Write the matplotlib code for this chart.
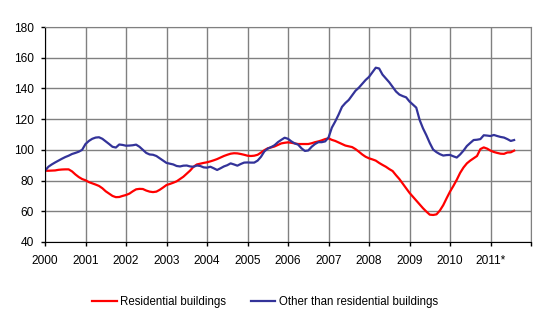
import numpy as np
import matplotlib
matplotlib.use("Agg")
import matplotlib.pyplot as plt

plt.rcParams["font.family"] = ["Liberation Sans", "DejaVu Sans"]

RED, BLUE, GRID = "#FF0000", "#333399", "#808080"

# monthly index values, Jan 2000 .. Aug 2011
residential = [
    86.4, 86.4, 86.5, 86.6, 87.0, 87.2, 87.3, 87.3, 86.0, 84.0, 82.3, 81.0,   # 2000
    80.2, 79.0, 78.2, 77.4, 76.5, 75.0, 73.0, 71.5, 70.0, 69.2, 69.3, 70.0,   # 2001
    70.6, 71.5, 73.0, 74.3, 74.6, 74.5, 73.5, 72.8, 72.5, 72.8, 74.0, 75.5,   # 2002
    77.1, 77.8, 78.6, 79.5, 81.0, 82.5, 84.5, 86.5, 89.0, 90.5, 91.0, 91.5,   # 2003
    91.9, 92.5, 93.2, 94.0, 95.0, 96.0, 96.8, 97.5, 97.8, 97.7, 97.3, 96.8,   # 2004
    96.2, 96.0, 96.2, 96.8, 98.2, 99.8, 101.0, 101.6, 102.2, 103.2, 104.2, 104.6,  # 2005
    104.9, 104.6, 104.2, 103.8, 103.8, 103.8, 103.8, 104.3, 105.0, 105.5, 106.2, 107.0,  # 2006
    107.5, 106.5, 105.8, 104.8, 103.8, 102.8, 102.3, 101.8, 100.5, 98.8, 97.0, 95.5,  # 2007
    94.5, 93.8, 93.0, 91.5, 90.2, 89.0, 87.5, 86.2, 83.5, 81.0, 78.0, 75.0,   # 2008
    72.0, 69.5, 67.0, 64.5, 62.0, 59.8, 57.8, 57.6, 58.0, 60.5, 64.0, 68.5,   # 2009
    72.8, 76.5, 80.5, 85.0, 88.5, 91.2, 93.0, 94.5, 96.0, 100.5, 101.6, 100.8,  # 2010
    99.5, 98.6, 98.0, 97.5, 97.4, 98.3, 98.4, 99.5,                           # 2011
]
other = [
    86.4, 89.0, 90.5, 91.8, 93.0, 94.2, 95.3, 96.2, 97.3, 98.0, 98.8, 100.0,  # 2000
    103.8, 105.8, 107.2, 108.0, 108.2, 107.2, 105.5, 103.8, 102.0, 101.5, 103.5, 103.2,  # 2001
    102.7, 102.8, 103.0, 103.4, 102.0, 100.0, 98.0, 97.0, 96.8, 96.0, 94.5, 93.0,  # 2002
    91.5, 91.0, 90.5, 89.5, 89.2, 89.7, 89.8, 89.2, 89.0, 89.8, 89.5, 88.6,   # 2003
    88.4, 89.0, 88.0, 86.9, 88.0, 89.2, 90.0, 91.2, 90.5, 89.7, 90.8, 91.7,   # 2004
    91.8, 91.7, 91.7, 93.0, 95.5, 99.0, 100.8, 101.8, 103.0, 105.0, 106.5, 107.9,  # 2005
    107.2, 105.5, 104.2, 103.4, 101.0, 99.3, 99.6, 102.0, 103.8, 105.0, 105.0, 105.5,  # 2006
    108.0, 114.5, 118.5, 123.0, 128.0, 130.5, 132.5, 135.5, 138.5, 140.5, 143.0, 145.5,  # 2007
    147.5, 150.5, 153.5, 153.0, 149.0, 146.5, 144.0, 141.0, 138.0, 136.0, 135.0, 134.2,  # 2008
    131.5, 129.5, 127.5, 119.5, 114.0, 109.5, 104.5, 100.2, 98.5, 97.2, 96.3, 96.6,  # 2009
    96.7, 95.8, 95.0, 97.0, 99.5, 102.5, 104.5, 106.4, 106.6, 107.0, 109.5, 109.3,  # 2010
    109.0, 109.7, 109.0, 108.4, 108.0, 107.0, 105.8, 106.4,                   # 2011
]
years = list(range(2000, 2012))
year_labels = [str(y) for y in years[:-1]] + ["2011*"]

t = 2000 + np.arange(len(residential)) / 12.0

fig = plt.figure(figsize=(5.55, 3.24), dpi=100)
ax = fig.add_axes([45 / 555, 1 - 242 / 324, 486 / 555, 215 / 324])

ax.plot(t, residential, color=RED, lw=1.6, label="Residential buildings")
ax.plot(t, other, color=BLUE, lw=1.6, label="Other than residential buildings")

ax.set_xlim(2000, 2012)
ax.set_ylim(40, 180)
ax.set_yticks(range(40, 181, 20))
ax.set_xticks(years + [2012])
ax.set_xticklabels(year_labels + [""])
ax.grid(True, color=GRID, lw=1.0)
ax.set_axisbelow(True)
ax.tick_params(axis="both", direction="out", length=3, width=1, labelsize=8.6, colors="black")
ax.tick_params(axis="x", pad=6)
ax.tick_params(axis="y", pad=5)
for s in ["top", "right"]:
    ax.spines[s].set_color(GRID)
for s in ["left", "bottom"]:
    ax.spines[s].set_color("black")

fig.legend(loc="center", bbox_to_anchor=(265 / 555, 1 - 302 / 324), ncol=2,
           frameon=False, fontsize=8.3, handlelength=2.15, handletextpad=0.3,
           columnspacing=2.1)

fig.savefig("out.png", dpi=100)
